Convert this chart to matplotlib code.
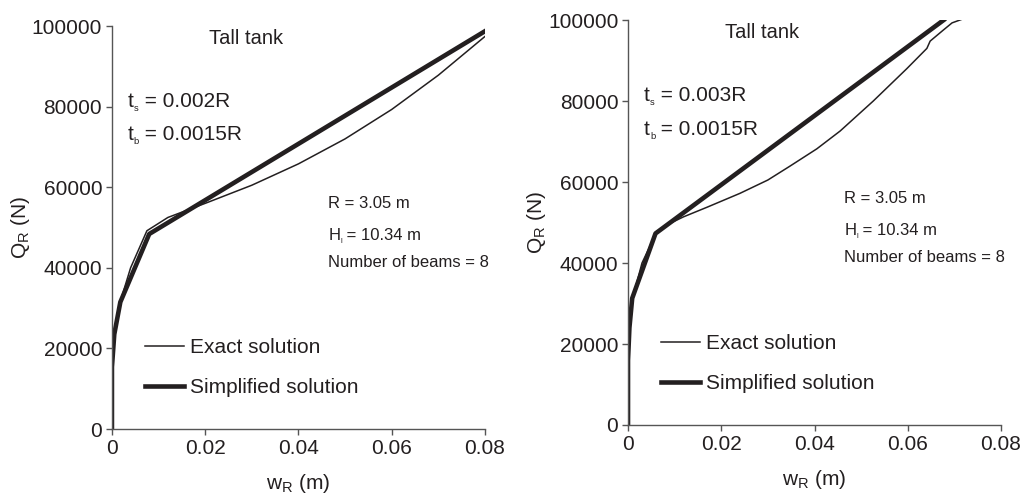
import matplotlib
matplotlib.use("Agg")
import matplotlib.pyplot as plt

plt.rcParams['font.family'] = ['Liberation Sans', 'DejaVu Sans']
plt.rcParams['mathtext.fontset'] = 'custom'
plt.rcParams['mathtext.rm'] = 'Liberation Sans'
plt.rcParams['mathtext.it'] = 'Liberation Sans'

INK = '#231f20'

# Panel 1: t_s = 0.002R
exact1_w = [0, 0.0, 0.0004, 0.0015, 0.004, 0.0075, 0.012, 0.02, 0.03, 0.04, 0.05, 0.06, 0.07, 0.0804]
exact1_q = [0, 15000, 23000, 30500, 40000, 49200, 52500, 56000, 60500, 65800, 72000, 79300, 87800, 97800]
simp1_w = [0, 0.0, 0.0005, 0.0018, 0.008, 0.0804]
simp1_q = [0, 15400, 23500, 31500, 48400, 99000]

# Panel 2: t_s = 0.003R
exact2_w = [0, 0.0, 0.0003, 0.0008, 0.003, 0.0062, 0.0085, 0.0119, 0.017, 0.024, 0.03, 0.0347,
            0.0405, 0.0455, 0.0526, 0.0598, 0.0641, 0.0648, 0.0676, 0.0695, 0.0719]
exact2_q = [0, 15000, 23000, 30500, 40000, 47800, 49500, 51400, 53800, 57200, 60500, 63900,
            68200, 72600, 80000, 88000, 93000, 94800, 97500, 99300, 100300]
simp2_w = [0, 0.0, 0.0003, 0.0009, 0.0059, 0.0677]
simp2_q = [0, 16000, 24000, 31300, 47300, 100000]

panels = [
    dict(rect=[0.109, 0.1437, 0.3632, 0.8043], ew=exact1_w, eq=exact1_q, sw=simp1_w, sq=simp1_q,
         ts="0.002R"),
    dict(rect=[0.6115, 0.1517, 0.3632, 0.8083], ew=exact2_w, eq=exact2_q, sw=simp2_w, sq=simp2_q,
         ts="0.003R"),
]


def sub_text(ax, x, y, base, sub, rest, size):
    # base letter, tiny subscript, then the rest of the line
    t0 = ax.text(x, y, base, transform=ax.transAxes, fontsize=size, color=INK,
                 ha='left', va='bottom')
    t1 = ax.annotate(sub, xy=(1, 0), xycoords=t0, xytext=(0, -1.5), textcoords='offset points',
                     fontsize=size * 0.45, color=INK, ha='left', va='bottom')
    ax.annotate(rest, xy=(1, 0), xycoords=(t1, t0), fontsize=size, color=INK,
                ha='left', va='bottom')


fig = plt.figure(figsize=(10.27, 5.01), dpi=100)

for p in panels:
    ax = fig.add_axes(p["rect"])
    ax.plot(p["ew"], p["eq"], color=INK, lw=1.1, label="Exact solution")
    ax.plot(p["sw"], p["sq"], color=INK, lw=3.3, label="Simplified solution")
    ax.set_xlim(0, 0.08)
    ax.set_ylim(0, 100000)
    ax.set_xticks([0, 0.02, 0.04, 0.06, 0.08])
    ax.set_xticklabels(["0", "0.02", "0.04", "0.06", "0.08"])
    ax.set_yticks([0, 20000, 40000, 60000, 80000, 100000])
    ax.set_yticklabels(["0", "20000", "40000", "60000", "80000", "100000"])
    for s in ["top", "right"]:
        ax.spines[s].set_visible(False)
    for s in ["left", "bottom"]:
        ax.spines[s].set_color('#555555')
        ax.spines[s].set_linewidth(1.0)
    ax.tick_params(direction='out', length=4, width=1, colors='#555555',
                   labelcolor=INK, labelsize=15, pad=3)
    ax.set_xlabel(r"w$_{\mathrm{R}}$ (m)", fontsize=15, color=INK, labelpad=10)
    ax.set_ylabel(r"Q$_{\mathrm{R}}$ (N)", fontsize=15, color=INK, labelpad=0)

    ax.text(0.36, 0.97, "Tall tank", transform=ax.transAxes, fontsize=14.5, color=INK,
            ha='center', va='center')
    sub_text(ax, 0.043, 0.79, "t", "s", " = " + p["ts"], 15)
    sub_text(ax, 0.043, 0.707, "t", "b", " = 0.0015R", 15)
    ax.text(0.58, 0.56, "R = 3.05 m", transform=ax.transAxes, fontsize=12, color=INK,
            ha='left', va='center')
    sub_text(ax, 0.58, 0.461, "H", "l", " = 10.34 m", 12)
    ax.text(0.58, 0.413, "Number of beams = 8", transform=ax.transAxes, fontsize=12,
            color=INK, ha='left', va='center')

    leg = ax.legend(loc='lower left', bbox_to_anchor=(0.065, 0.058), frameon=False,
                    fontsize=15, handlelength=1.9, handletextpad=0.3, labelspacing=1.0,
                    borderaxespad=0)
    for t in leg.get_texts():
        t.set_color(INK)

fig.savefig("out.png", dpi=100)
